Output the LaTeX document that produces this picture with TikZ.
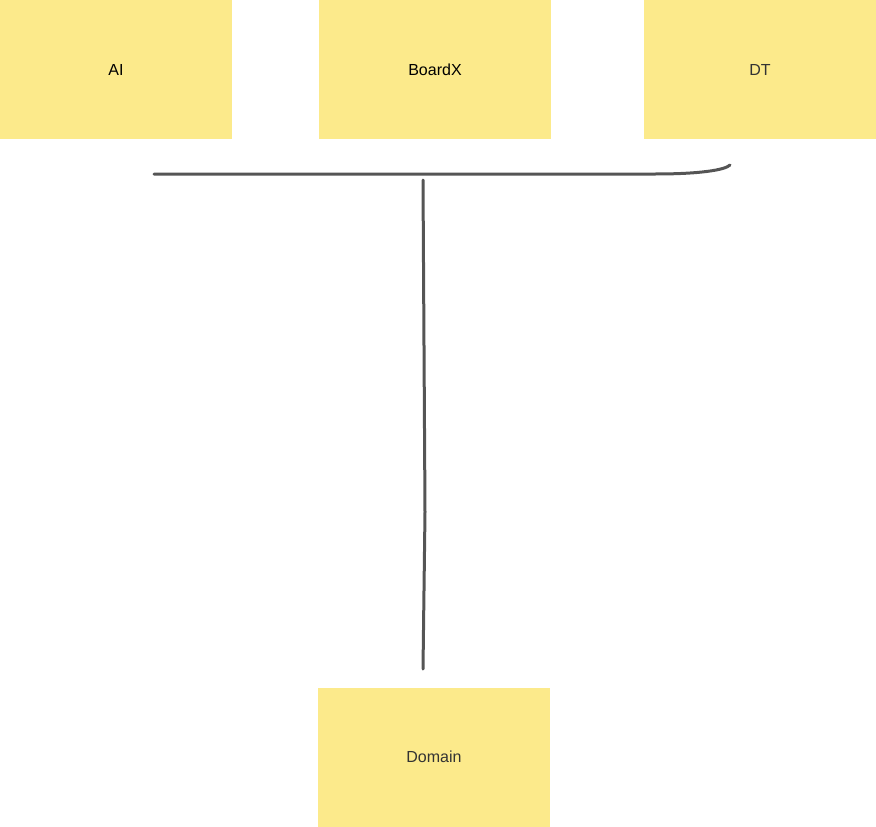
\documentclass[tikz,border=0pt]{standalone}
\usepackage{fontspec}
\setmainfont{Liberation Sans}
\begin{document}
\begin{tikzpicture}[x=1pt,y=-1pt,
  note/.style={fill=notey,draw=none,minimum width=232pt,minimum height=139pt,inner sep=0pt,font=\fontsize{16}{19}\selectfont},
  wire/.style={draw=wirec,line width=3pt,line cap=round}]
\definecolor{notey}{HTML}{FCEA8B}
\definecolor{wirec}{HTML}{555555}
\definecolor{txtg}{HTML}{333333}
\useasboundingbox (0,0) rectangle (876,827);
\node[note,text=black] (ai) at (116,69.5) {AI};
\node[note,text=black] (bx) at (435,69.5) {BoardX};
\node[note,text=txtg] (dt) at (760,69.5) {DT};
\node[note,text=txtg] (dom) at (434,757) {Domain};
\coordinate (h1) at (154,174);
\coordinate (h2) at (655,174);
\coordinate (h3) at (730,165);
\coordinate (v1) at (423,180);
\coordinate (vm) at (425,512);
\coordinate (v2) at (423,669);
\draw[wire] (h1) -- (h2) .. controls (700,174) and (725,170) .. (h3);
\draw[wire] (v1) -- (vm) -- (v2);
\end{tikzpicture}
\end{document}
